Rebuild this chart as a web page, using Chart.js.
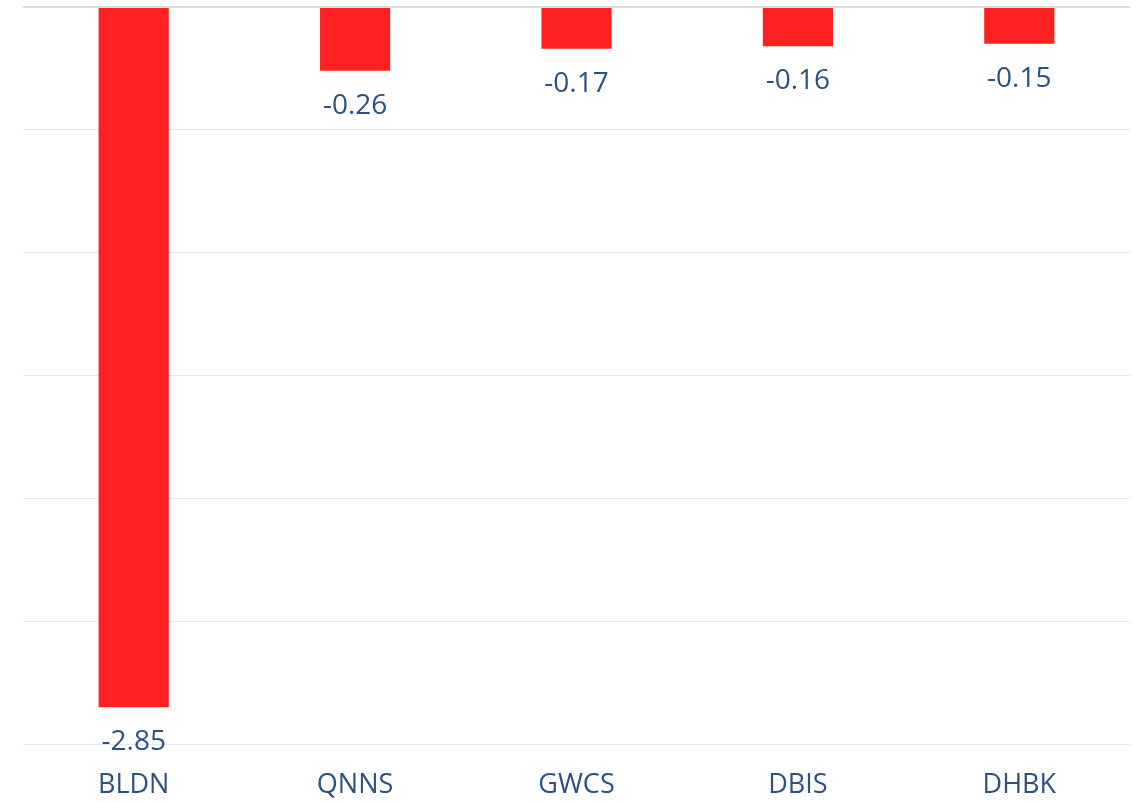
<!DOCTYPE html>
<html>
<head>
<meta charset="utf-8">
<script src="https://cdn.jsdelivr.net/npm/chart.js@4"></script>
<style>
  html, body { margin: 0; padding: 0; background: #fff; }
  #wrap { width: 1138px; height: 803px; }
</style>
</head>
<body>
<div id="wrap"><canvas id="chart"></canvas></div>
<script>
const categories = ['BLDN', 'QNNS', 'GWCS', 'DBIS', 'DHBK'];
const values = [-2.85, -0.26, -0.17, -0.16, -0.15];
const yMin = -3;
const yMax = 0;
const yStep = 0.5;

const textColor = '#2b5281';
const fontFamily = '"Open Sans", sans-serif';

// draws the value under each bar
const barLabels = {
    id: 'barLabels',
    afterDatasetsDraw(chart) {
        const ctx = chart.ctx;
        const meta = chart.getDatasetMeta(0);
        ctx.save();
        ctx.fillStyle = textColor;
        ctx.font = '28px ' + fontFamily;
        ctx.textAlign = 'center';
        ctx.textBaseline = 'middle';
        meta.data.forEach((bar, i) => {
            ctx.fillText(values[i].toFixed(2), bar.x, bar.y + 35);
        });
        ctx.restore();
    }
};

const ctx = document.getElementById('chart').getContext('2d');
new Chart(ctx, {
    type: 'bar',
    data: {
        labels: categories,
        datasets: [{
            data: values,
            backgroundColor: '#ff2121',
            borderWidth: 0,
            categoryPercentage: 1,
            barPercentage: 0.317
        }]
    },
    options: {
        responsive: true,
        maintainAspectRatio: false,
        animation: false,
        layout: { padding: { left: 23, right: 8, top: 7, bottom: 0 } },
        plugins: {
            legend: { display: false },
            tooltip: { enabled: false }
        },
        scales: {
            x: {
                grid: { display: false },
                border: { display: false },
                ticks: {
                    color: textColor,
                    font: { family: fontFamily, size: 27 },
                    padding: 17
                },
                afterFit: scale => { scale.height = 59; }
            },
            y: {
                min: yMin,
                max: yMax,
                border: { display: false },
                grid: {
                    drawTicks: false,
                    color: c => c.tick && c.tick.value === 0 ? '#dcdcdc' : '#dde9f5',
                    lineWidth: c => c.tick && c.tick.value === 0 ? 2 : 1
                },
                ticks: { display: false, stepSize: yStep }
            }
        }
    },
    plugins: [barLabels]
});
</script>
</body>
</html>
